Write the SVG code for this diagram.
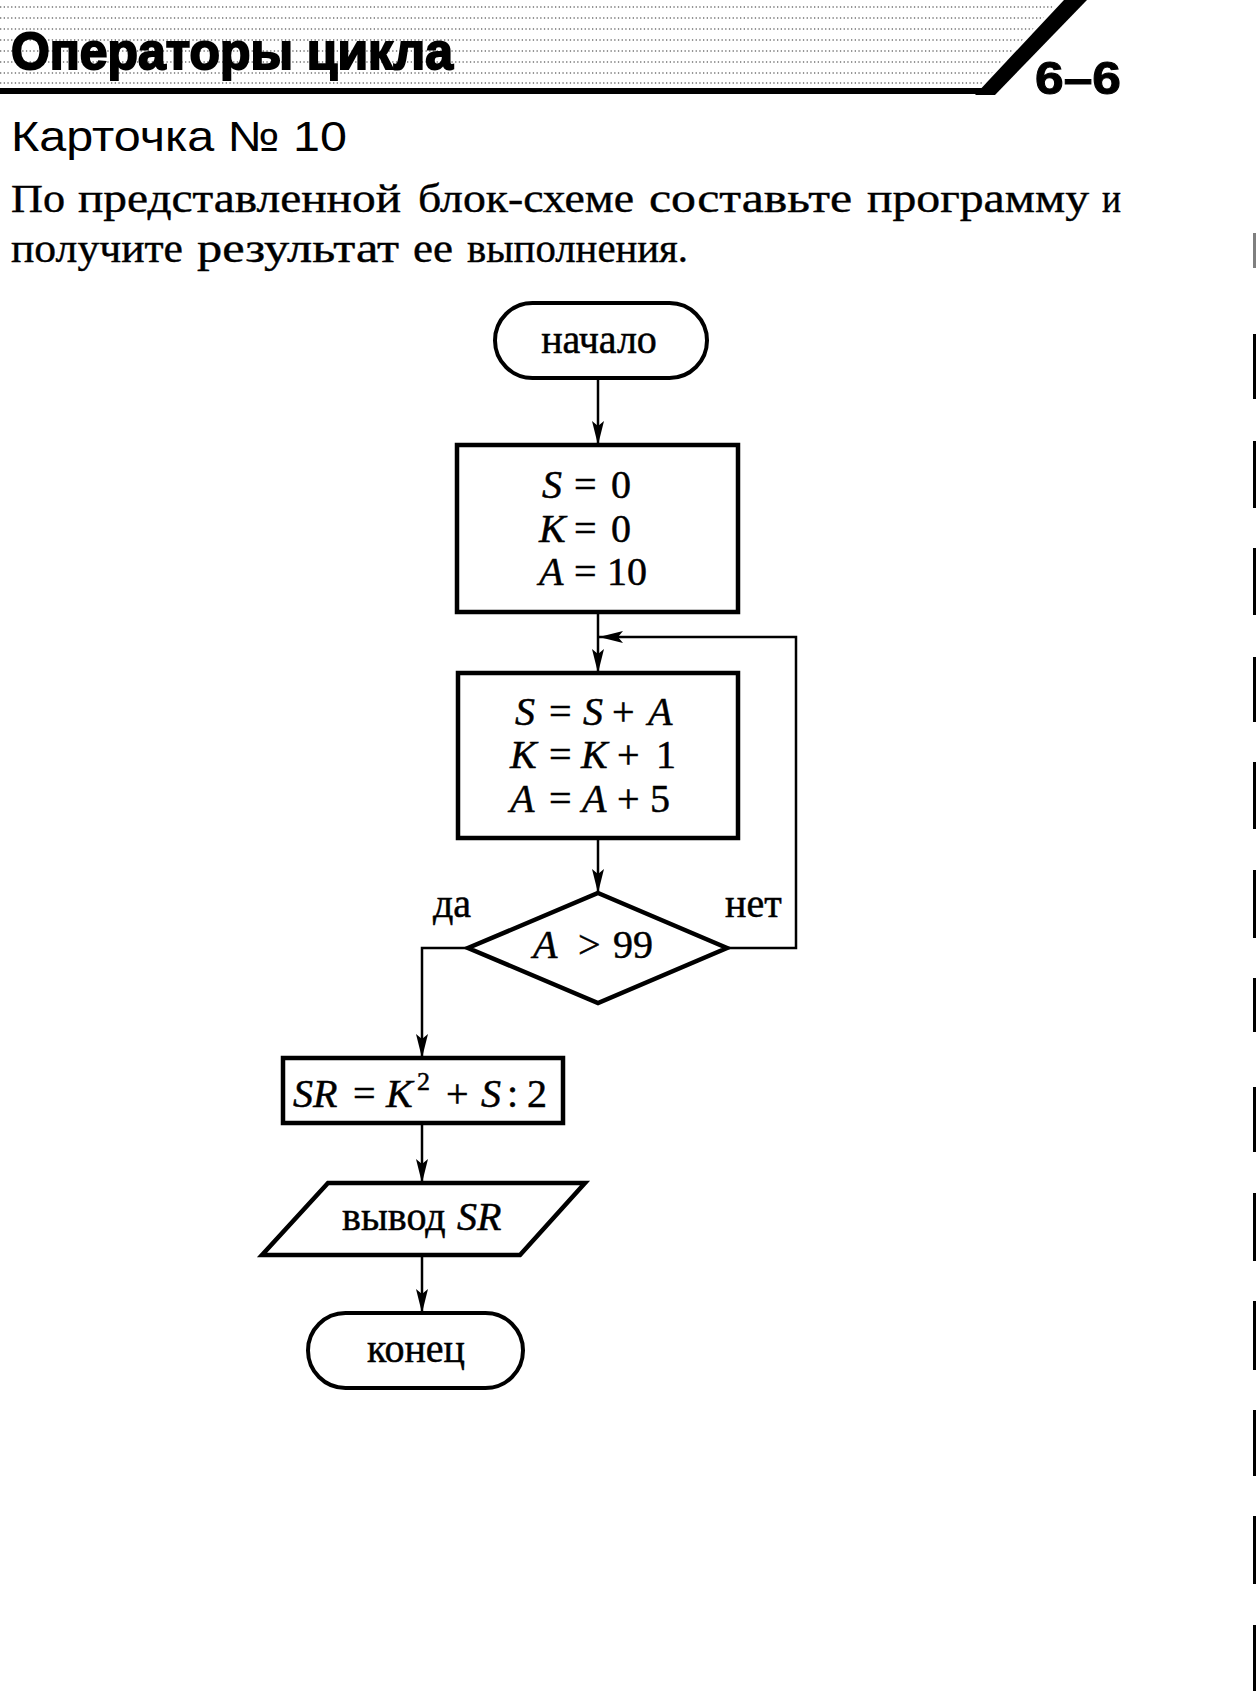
<svg xmlns="http://www.w3.org/2000/svg" width="1257" height="1691" viewBox="0 0 1257 1691">
<style>
.bg{fill:#fff}
.shape{fill:none;stroke:#000;stroke-width:4.5;stroke-linejoin:miter}
.term{fill:none;stroke:#000;stroke-width:4}
.conn{fill:none;stroke:#000;stroke-width:2.5}
.lbl{font-family:"Liberation Serif","Times New Roman",serif;font-size:40px;fill:#000;stroke:#000;stroke-width:0.5}
.it{font-style:italic}
.ser{font-family:"Liberation Serif","Times New Roman",serif;font-size:40px;fill:#000;stroke:#000;stroke-width:0.4}
.dots{stroke:#000;stroke-width:1.3;stroke-dasharray:1.3 2.4;opacity:0.55}
.bar{fill:#000}
</style>
<defs>
<marker id="arr" markerUnits="userSpaceOnUse" markerWidth="26" markerHeight="14" refX="24" refY="7" orient="auto">
<path d="M0,1 L24,7 L0,13 L5,7 z" fill="#000"/>
</marker>
<clipPath id="hdrclip"><polygon points="0,0 1060,0 978,88 0,88"/></clipPath>
</defs>
<rect class="bg" x="0" y="0" width="1257" height="1691"/>

<g id="header">
<g clip-path="url(#hdrclip)">
<line class="dots" x1="0" y1="7" x2="1100" y2="7"/>
<line class="dots" x1="0" y1="18" x2="1100" y2="18"/>
<line class="dots" x1="0" y1="29" x2="1100" y2="29"/>
<line class="dots" x1="0" y1="40" x2="1100" y2="40"/>
<line class="dots" x1="0" y1="51" x2="1100" y2="51"/>
<line class="dots" x1="0" y1="62" x2="1100" y2="62"/>
<line class="dots" x1="0" y1="73" x2="1100" y2="73"/>
<line class="dots" x1="0" y1="83" x2="1100" y2="83"/>
</g>
<rect x="0" y="88" width="990" height="6" fill="#000"/>
<polygon points="975,95 995,95 1087,0 1064,0" fill="#000"/>
<text x="11" y="69" font-family="'Liberation Sans Narrow','Liberation Sans',Arial,sans-serif" font-weight="bold" font-size="52" stroke="#000" stroke-width="2" textLength="442" lengthAdjust="spacingAndGlyphs">Операторы цикла</text>
<text x="1035" y="94" font-family="'Liberation Sans',Arial,sans-serif" font-weight="bold" font-size="46" stroke="#000" stroke-width="1" textLength="86" lengthAdjust="spacingAndGlyphs">6–6</text>
</g>

<g id="card-title">
<text x="11" y="151" font-family="'Liberation Sans',Arial,sans-serif" font-size="42" textLength="336" lengthAdjust="spacingAndGlyphs">Карточка № 10</text>
</g>

<g id="task">
<text class="ser" y="212"><tspan x="11" textLength="54" lengthAdjust="spacingAndGlyphs">По</tspan><tspan x="78" textLength="323" lengthAdjust="spacingAndGlyphs">представленной</tspan><tspan x="418" textLength="216" lengthAdjust="spacingAndGlyphs">блок-схеме</tspan><tspan x="649" textLength="203" lengthAdjust="spacingAndGlyphs">составьте</tspan><tspan x="867" textLength="222" lengthAdjust="spacingAndGlyphs">программу</tspan><tspan x="1102" textLength="19" lengthAdjust="spacingAndGlyphs">и</tspan></text>
<text class="ser" y="262"><tspan x="11" textLength="172" lengthAdjust="spacingAndGlyphs">получите</tspan><tspan x="197" textLength="202" lengthAdjust="spacingAndGlyphs">результат</tspan><tspan x="413" textLength="40" lengthAdjust="spacingAndGlyphs">ее</tspan><tspan x="467" textLength="221" lengthAdjust="spacingAndGlyphs">выполнения.</tspan></text>
</g>

<g id="connectors">
<line class="conn" x1="598" y1="378" x2="598" y2="445" marker-end="url(#arr)"/>
<line class="conn" x1="598" y1="612" x2="598" y2="673" marker-end="url(#arr)"/>
<line class="conn" x1="598" y1="838" x2="598" y2="893" marker-end="url(#arr)"/>
<polyline class="conn" points="727,948 796,948 796,637 599,637" marker-end="url(#arr)"/>
<polyline class="conn" points="468,948 422,948 422,1058" marker-end="url(#arr)"/>
<line class="conn" x1="422" y1="1123" x2="422" y2="1183" marker-end="url(#arr)"/>
<line class="conn" x1="422" y1="1255" x2="422" y2="1313" marker-end="url(#arr)"/>
<text class="lbl" x="433" y="917" font-size="38">да</text>
<text class="lbl" x="725" y="917" font-size="38">нет</text>
</g>

<g id="start">
<rect class="term" x="495" y="303" width="212" height="75" rx="37.5" ry="37.5" fill="#fff"/>
<text class="lbl" x="599" y="353" text-anchor="middle">начало</text>
</g>

<g id="init">
<rect class="shape" x="457" y="445" width="281" height="167"/>
<text class="lbl"><tspan class="it" x="542" y="498">S</tspan><tspan x="574" y="498">=</tspan><tspan x="611" y="498">0</tspan></text>
<text class="lbl"><tspan class="it" x="539" y="542">K</tspan><tspan x="574" y="542">=</tspan><tspan x="611" y="542">0</tspan></text>
<text class="lbl"><tspan class="it" x="539" y="585">A</tspan><tspan x="574" y="585">=</tspan><tspan x="607" y="585">10</tspan></text>
</g>

<g id="body">
<rect class="shape" x="458" y="673" width="280" height="165"/>
<text class="lbl"><tspan class="it" x="515" y="725">S</tspan><tspan x="549" y="725">=</tspan><tspan class="it" x="583" y="725">S</tspan><tspan x="612" y="725">+</tspan><tspan class="it" x="648" y="725">A</tspan></text>
<text class="lbl"><tspan class="it" x="510" y="768">K</tspan><tspan x="549" y="768">=</tspan><tspan class="it" x="581" y="768">K</tspan><tspan x="617" y="768">+</tspan><tspan x="656" y="768">1</tspan></text>
<text class="lbl"><tspan class="it" x="510" y="812">A</tspan><tspan x="549" y="812">=</tspan><tspan class="it" x="582" y="812">A</tspan><tspan x="617" y="812">+</tspan><tspan x="650" y="812">5</tspan></text>
</g>

<g id="cond">
<polygon class="shape" points="598,893 727,948 598,1003 468,948"/>
<text class="lbl"><tspan class="it" x="533" y="958">A</tspan><tspan x="578" y="958">&gt;</tspan><tspan x="613" y="958">99</tspan></text>
</g>

<g id="calc">
<rect class="shape" x="283" y="1058" width="280" height="65"/>
<text class="lbl"><tspan class="it" x="293" y="1107">SR</tspan><tspan x="353" y="1107">=</tspan><tspan class="it" x="386" y="1107">K</tspan><tspan x="417" y="1090" font-size="26">2</tspan><tspan x="446" y="1107">+</tspan><tspan class="it" x="481" y="1107">S</tspan><tspan x="507" y="1107">:</tspan><tspan x="527" y="1107">2</tspan></text>
</g>

<g id="output">
<polygon class="shape" points="328,1183 585,1183 520,1255 262,1255"/>
<text class="lbl"><tspan x="342" y="1230">вывод</tspan><tspan class="it" x="457" y="1230">SR</tspan></text>
</g>

<g id="end">
<rect class="term" x="308" y="1313" width="215" height="75" rx="37.5" ry="37.5"/>
<text class="lbl" x="416" y="1362" text-anchor="middle">конец</text>
</g>

<g id="edge-marks">
<rect class="bar" x="1253" y="233" width="3" height="35" opacity="0.5"/>
<rect class="bar" x="1253" y="334" width="3" height="65"/>
<rect class="bar" x="1253" y="441" width="3" height="67"/>
<rect class="bar" x="1253" y="548" width="3" height="67"/>
<rect class="bar" x="1253" y="657" width="3" height="65"/>
<rect class="bar" x="1253" y="762" width="3" height="67"/>
<rect class="bar" x="1253" y="870" width="3" height="68"/>
<rect class="bar" x="1253" y="978" width="3" height="54"/>
<rect class="bar" x="1253" y="1087" width="3" height="65"/>
<rect class="bar" x="1253" y="1193" width="3" height="68"/>
<rect class="bar" x="1253" y="1301" width="3" height="69"/>
<rect class="bar" x="1253" y="1410" width="3" height="66"/>
<rect class="bar" x="1253" y="1516" width="3" height="68"/>
<rect class="bar" x="1253" y="1625" width="3" height="66"/>
</g>
</svg>
